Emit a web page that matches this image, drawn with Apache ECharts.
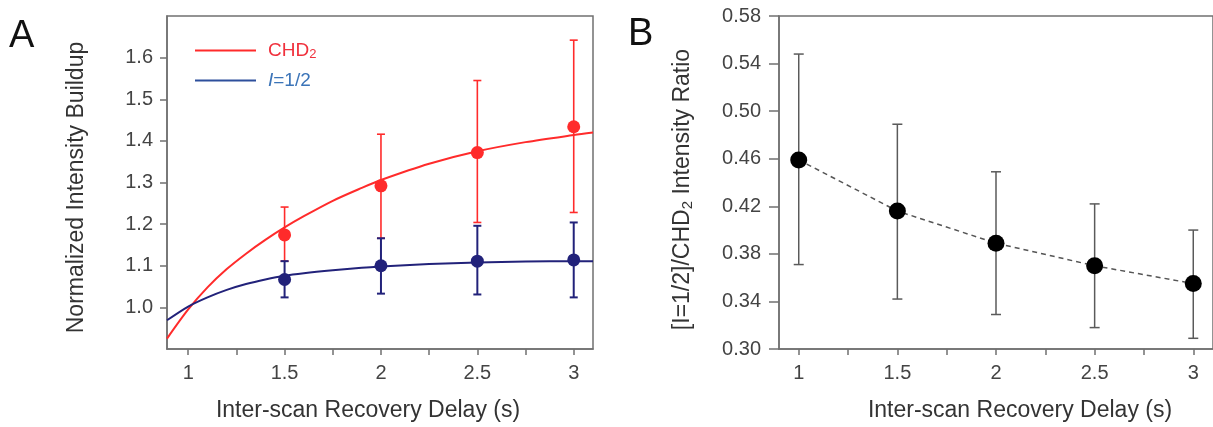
<!DOCTYPE html>
<html>
<head>
<meta charset="utf-8">
<script src="https://cdn.jsdelivr.net/npm/echarts@6/dist/echarts.min.js"></script>
<style>
html,body{margin:0;padding:0;background:#fff;}
#c{width:1213px;height:427px;}
</style>
</head>
<body>
<div id="c"></div>
<script>
// ---- Panel A data ----
const delayA = [1.5, 2, 2.5, 3];
const chdMean = [1.174, 1.292, 1.372, 1.434];
const chdLow  = [1.111, 1.166, 1.204, 1.228];
const chdHigh = [1.241, 1.416, 1.545, 1.642];
const halfMean = [1.067, 1.100, 1.111, 1.114];
const halfLow  = [1.024, 1.033, 1.031, 1.024];
const halfHigh = [1.111, 1.166, 1.196, 1.204];
// fitted curves
const fitX    = [0.89, 1.0, 1.1, 1.2, 1.3, 1.4, 1.5, 1.6, 1.75, 1.9, 2.0, 2.25, 2.5, 2.75, 3.0, 3.1];
const chdFit  = [0.925, 0.995, 1.048, 1.092, 1.129, 1.162, 1.192, 1.219, 1.256, 1.287, 1.306, 1.345, 1.375, 1.397, 1.414, 1.420];
const halfFit = [0.969, 1.002, 1.024, 1.042, 1.056, 1.067, 1.076, 1.082, 1.089, 1.095, 1.098, 1.104, 1.108, 1.110, 1.111, 1.111];
// ---- Panel B data ----
const delayB = [1, 1.5, 2, 2.5, 3];
const ratio     = [0.459, 0.416, 0.389, 0.370, 0.355];
const ratioLow  = [0.371, 0.342, 0.329, 0.318, 0.309];
const ratioHigh = [0.548, 0.489, 0.449, 0.422, 0.400];
// ---- ticks ----
const xTicks = [1, 1.25, 1.5, 1.75, 2, 2.25, 2.5, 2.75, 3];
const xLabels = [1, 1.5, 2, 2.5, 3];
const yTicksA = [1.0, 1.1, 1.2, 1.3, 1.4, 1.5, 1.6];
const yTicksB = [0.30, 0.34, 0.38, 0.42, 0.46, 0.50, 0.54, 0.58];

const zip = (a, b) => a.map((v, i) => [v, b[i]]);
const zip3 = (a, b, c) => a.map((v, i) => [v, b[i], c[i]]);

const RED = '#ff2b2b';
const NAVY = '#22227a';
const FONT = 'Liberation Sans, Arial, sans-serif';

function errBar(color, width, capHalf) {
  return function (params, api) {
    const x = api.value(0);
    const top = api.coord([x, api.value(2)]);
    const bot = api.coord([x, api.value(1)]);
    const st = { stroke: color, lineWidth: width };
    return {
      type: 'group',
      children: [
        { type: 'line', shape: { x1: top[0], y1: top[1], x2: bot[0], y2: bot[1] }, style: st },
        { type: 'line', shape: { x1: top[0] - capHalf, y1: top[1], x2: top[0] + capHalf, y2: top[1] }, style: st },
        { type: 'line', shape: { x1: bot[0] - capHalf, y1: bot[1], x2: bot[0] + capHalf, y2: bot[1] }, style: st }
      ]
    };
  };
}

const axisCommon = {
  axisLine: { show: true, lineStyle: { color: '#707070', width: 1.5 } },
  axisTick: { show: true, length: 7, lineStyle: { color: '#707070', width: 1.5 } },
  splitLine: { show: false },
  axisLabel: { color: '#444', fontSize: 20, fontFamily: FONT },
  nameTextStyle: { color: '#333', fontSize: 22, fontFamily: FONT }
};

const chart = echarts.init(document.getElementById('c'), null, { renderer: 'canvas' });
chart.setOption({
  backgroundColor: '#fff',
  animation: false,
  graphic: [
    { type: 'text', left: 9, top: 18, style: { text: 'A', fontSize: 38, fontFamily: FONT, fill: '#111' } },
    { type: 'text', left: 628, top: 16, style: { text: 'B', fontSize: 38, fontFamily: FONT, fill: '#111' } }
  ],
  grid: [
    { left: 167, top: 16, width: 426, height: 336, show: true, borderColor: '#707070', borderWidth: 1.5, backgroundColor: 'transparent' },
    { left: 779, top: 16, width: 444, height: 336, show: true, borderColor: '#707070', borderWidth: 1.5, backgroundColor: 'transparent' }
  ],
  legend: {
    left: 190, top: 36, orient: 'vertical', itemWidth: 61, itemHeight: 2, itemGap: 10,
    textStyle: { fontSize: 19, fontFamily: FONT, padding: [0, 0, 0, 7],
      rich: { sub: { fontSize: 13, verticalAlign: 'bottom', padding: [8, 0, 0, 0], fontFamily: FONT },
              it: { fontStyle: 'italic', fontSize: 19, fontFamily: FONT } } },
    formatter: function (n) { return n === 'CHD2' ? 'CHD{sub|2}' : '{it|I}=1/2'; },
    data: [
      { name: 'CHD2', icon: 'rect', itemStyle: { color: RED }, textStyle: { color: '#f0303c', rich: { sub: { color: '#f0303c' } } } },
      { name: 'I=1/2', icon: 'rect', itemStyle: { color: '#2d4f9c' }, textStyle: { color: '#3b74b8', rich: { it: { color: '#3b74b8' } } } }
    ]
  },
  xAxis: [
    Object.assign({}, axisCommon, {
      gridIndex: 0, type: 'value', min: 0.89, max: 3.1,
      name: 'Inter-scan Recovery Delay (s)', nameLocation: 'middle', nameGap: 50,
      nameTextStyle: { color: '#333', fontSize: 23, fontFamily: FONT, padding: [0, 24, 0, 0] },
      axisTick: Object.assign({}, axisCommon.axisTick, { customValues: xTicks, length: 6 }),
      axisLabel: Object.assign({}, axisCommon.axisLabel, { customValues: xLabels, margin: 14, formatter: v => String(v) })
    }),
    Object.assign({}, axisCommon, {
      gridIndex: 1, type: 'value', min: 0.9, max: 3.1,
      name: 'Inter-scan Recovery Delay (s)', nameLocation: 'middle', nameGap: 50,
      nameTextStyle: { color: '#333', fontSize: 23, fontFamily: FONT, padding: [0, 0, 0, 48] },
      axisTick: Object.assign({}, axisCommon.axisTick, { customValues: xTicks, length: 6 }),
      axisLabel: Object.assign({}, axisCommon.axisLabel, { customValues: xLabels, margin: 14, formatter: v => String(v) })
    })
  ],
  yAxis: [
    Object.assign({}, axisCommon, {
      gridIndex: 0, type: 'value', min: 0.9, max: 1.7,
      name: 'Normalized Intensity Buildup', nameLocation: 'middle', nameGap: 79,
      nameTextStyle: { color: '#333', fontSize: 23, fontFamily: FONT, padding: [0, 10, 0, 0] },
      axisTick: Object.assign({}, axisCommon.axisTick, { customValues: yTicksA, length: 7 }),
      axisLabel: Object.assign({}, axisCommon.axisLabel, { customValues: yTicksA, margin: 14, formatter: v => v.toFixed(1) })
    }),
    Object.assign({}, axisCommon, {
      gridIndex: 1, type: 'value', min: 0.30, max: 0.58,
      name: '[I=1/2]/CHD{sub|2} Intensity Ratio', nameLocation: 'middle', nameGap: 84,
      nameTextStyle: { color: '#333', fontSize: 23, fontFamily: FONT, padding: [0, 14, 0, 0],
        rich: { sub: { fontSize: 15, fontFamily: FONT, color: '#333', padding: [9, 0, 0, 0], verticalAlign: 'bottom' } } },
      axisTick: Object.assign({}, axisCommon.axisTick, { customValues: yTicksB, length: 10 }),
      axisLabel: Object.assign({}, axisCommon.axisLabel, { customValues: yTicksB, margin: 18, formatter: v => v.toFixed(2) })
    })
  ],
  series: [
    { name: 'CHD2', type: 'line', xAxisIndex: 0, yAxisIndex: 0, data: zip(fitX, chdFit), smooth: 0.3, showSymbol: false,
      lineStyle: { color: RED, width: 2 }, itemStyle: { color: RED }, z: 2 },
    { type: 'custom', xAxisIndex: 0, yAxisIndex: 0, data: zip3(delayA, chdLow, chdHigh), renderItem: errBar(RED, 1.6, 4), z: 3 },
    { type: 'scatter', xAxisIndex: 0, yAxisIndex: 0, data: zip(delayA, chdMean), symbolSize: 13, itemStyle: { color: RED, opacity: 1 }, z: 4 },
    { name: 'I=1/2', type: 'line', xAxisIndex: 0, yAxisIndex: 0, data: zip(fitX, halfFit), smooth: 0.3, showSymbol: false,
      lineStyle: { color: NAVY, width: 2 }, itemStyle: { color: NAVY }, z: 5 },
    { type: 'custom', xAxisIndex: 0, yAxisIndex: 0, data: zip3(delayA, halfLow, halfHigh), renderItem: errBar(NAVY, 2, 4), z: 6 },
    { type: 'scatter', xAxisIndex: 0, yAxisIndex: 0, data: zip(delayA, halfMean), symbolSize: 13, itemStyle: { color: NAVY, opacity: 1 }, z: 7 },
    { type: 'custom', xAxisIndex: 1, yAxisIndex: 1, data: zip3(delayB, ratioLow, ratioHigh), renderItem: errBar('#5a5a5a', 1.5, 5), z: 3 },
    { type: 'line', xAxisIndex: 1, yAxisIndex: 1, data: zip(delayB, ratio), symbol: 'circle', symbolSize: 17,
      lineStyle: { color: '#555', width: 1.5, type: [5, 4] }, itemStyle: { color: '#000' }, z: 4 }
  ]
});
</script>
</body>
</html>
